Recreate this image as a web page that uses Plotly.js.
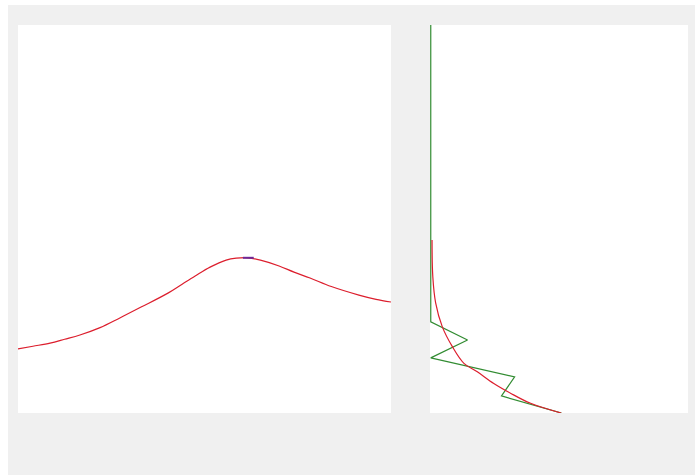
<!DOCTYPE html>
<html>
<head>
<meta charset="utf-8">
<script src="https://cdn.plot.ly/plotly-3.0.1.min.js"></script>
<style>
html,body{margin:0;padding:0;background:#ffffff;}
#chart{position:absolute;left:8px;top:5px;width:687px;height:470px;}
</style>
</head>
<body>
<div id="chart"></div>
<script>
// Left panel: peak curve
const peakX = [0, 4, 8.6, 12.5, 16.6, 22, 27.3, 33, 40.2, 44, 47.5, 51.5, 55.8, 58.5, 61.7, 65, 70.0, 74, 78.3, 84, 91.4, 96, 100];
const peakY = [16.5, 17.2, 18.0, 19.0, 20.1, 22.0, 24.5, 27.3, 30.9, 33.2, 35.3, 37.6, 39.4, 39.9, 40.0, 39.4, 37.9, 36.3, 34.8, 32.6, 30.4, 29.3, 28.6];
// short highlighted segment at the peak
const markX = [60.3, 63.2];
const markY = [40.0, 40.0];

// Right panel: horizontal histogram (green) and fitted curve (red)
const histY = [0, 4.4, 9.3, 14.2, 18.8, 23.5, 100];
const histX = [50.8, 27.5, 32.6, 0, 14.3, 0, 0];
const fitY = [0, 2.5, 5.1, 7.6, 10.6, 12.8, 17.1, 22.2, 28.4, 35.1, 44.6];
const fitX = [50.7, 38.8, 31.0, 24.5, 18.1, 12.9, 8.4, 4.5, 1.9, 0.8, 0.5];

const red = 'rgb(220,30,45)';
const green = 'rgb(50,140,50)';

const traces = [
  {x: peakX, y: peakY, mode: 'lines', line: {color: red, width: 1.2, shape: 'spline'}, xaxis: 'x', yaxis: 'y', hoverinfo: 'skip'},
  {x: markX, y: markY, mode: 'lines', line: {color: 'rgb(110,40,150)', width: 2}, xaxis: 'x', yaxis: 'y', hoverinfo: 'skip'},
  {x: histX, y: histY, mode: 'lines', line: {color: green, width: 1.2}, xaxis: 'x2', yaxis: 'y2', hoverinfo: 'skip'},
  {x: fitX, y: fitY, mode: 'lines', line: {color: red, width: 1.2, shape: 'spline'}, xaxis: 'x2', yaxis: 'y2', hoverinfo: 'skip'}
];

const ax = {showgrid: false, zeroline: false, showticklabels: false, showline: false, ticks: '', fixedrange: true};

const layout = {
  width: 687, height: 470,
  margin: {l: 10, r: 7, t: 20, b: 62, pad: 0},
  paper_bgcolor: '#f0f0f0',
  plot_bgcolor: '#ffffff',
  showlegend: false,
  xaxis: Object.assign({}, ax, {domain: [0, 0.5567], range: [0, 100]}),
  yaxis: Object.assign({}, ax, {domain: [0, 1], range: [0, 100]}),
  xaxis2: Object.assign({}, ax, {domain: [0.6149, 1], range: [-0.3, 100], anchor: 'y2'}),
  yaxis2: Object.assign({}, ax, {domain: [0, 1], range: [0, 100], anchor: 'x2'})
};

Plotly.newPlot('chart', traces, layout, {displayModeBar: false, staticPlot: true});
</script>
</body>
</html>
